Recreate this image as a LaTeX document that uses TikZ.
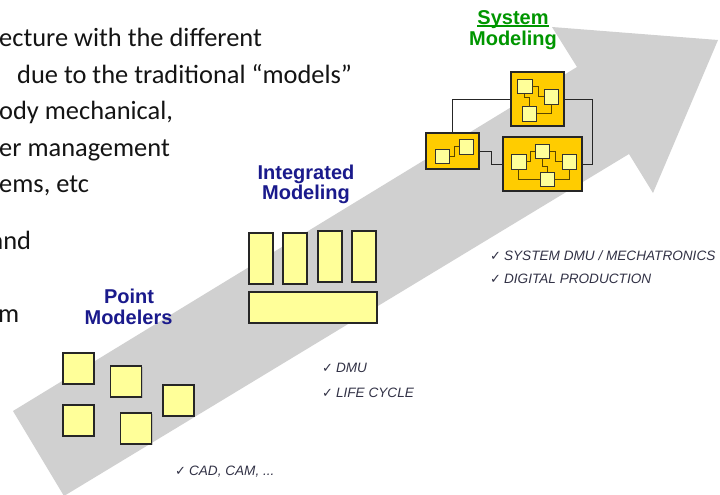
\documentclass[tikz,border=0pt]{standalone}
\usepackage{fontspec}
\setmainfont{Liberation Sans}
\newfontfamily\calfont{Carlito}
\newfontfamily\symfont{DejaVu Sans}
\usetikzlibrary{shadows}
\definecolor{arrowgray}{RGB}{208,208,208}
\definecolor{lightyel}{RGB}{255,255,153}
\definecolor{goldbox}{RGB}{255,204,0}
\definecolor{navylab}{RGB}{26,26,140}
\definecolor{greenlab}{RGB}{0,150,0}
\definecolor{checktxt}{RGB}{50,50,70}
\definecolor{innerline}{RGB}{90,70,0}
\newcommand\chkmark{{\symfont\fontsize{13}{14}\selectfont ✓}\hspace{3pt}}
\begin{document}
\begin{tikzpicture}[x=1pt,y=-1pt,
  ybox/.style={draw=black!85, fill=lightyel, line width=1.1pt, inner sep=0pt, outer sep=0pt,
    drop shadow={shadow xshift=1pt, shadow yshift=-1pt, opacity=.35}},
  gbox/.style={draw=black!85, fill=goldbox, line width=1.1pt, inner sep=0pt, outer sep=0pt,
    drop shadow={shadow xshift=1pt, shadow yshift=-1pt, opacity=.35}},
  sq/.style={draw=black!80, fill=lightyel, line width=0.8pt, inner sep=0pt, outer sep=0pt, minimum size=14.5pt},
  conn/.style={draw=black!85, line width=1pt},
  inconn/.style={draw=innerline, line width=0.9pt},
  blk/.style={font=\calfont\fontsize{26.4}{31}\selectfont, text=black!92, inner sep=0pt, anchor=base west},
  navy/.style={font=\bfseries\fontsize{20}{20}\selectfont, text=navylab, inner sep=0pt, anchor=base},
  grn/.style={font=\bfseries\fontsize{20}{20}\selectfont, text=greenlab, inner sep=0pt, anchor=base},
  chk/.style={font=\itshape\fontsize{13.6}{16}\selectfont, text=checktxt, inner sep=0pt, anchor=base west}
]
\useasboundingbox (0,0) rectangle (720,495);
\fill[white] (0,0) rectangle (720,495);
\begin{scope}
\clip (0,0) rectangle (720,495);

% big arrow
\fill[arrowgray] (13,411) -- (577,67) -- (552,27) -- (718,40) -- (653,193) -- (629,154) -- (64,496) -- cycle;

% left text fragments
\node[blk] (t1) at (-1,47) {ecture with the different};
\node[blk] (t2) at (17,83) {due to the traditional “models”};
\node[blk] (t3) at (-1,119) {ody mechanical,};
\node[blk] (t4) at (-1,156) {er management};
\node[blk] (t5) at (-1,192) {ems, etc};
\node[blk] (t6) at (-9.5,249) {and};
\node[blk] (t7) at (-2,322) {m};
\end{scope}

% labels
\node[navy] (pm1) at (129,303) {Point};
\node[navy] (pm2) at (128.5,324) {Modelers};
\node[navy] (im1) at (306,179) {Integrated};
\node[navy] (im2) at (306,199) {Modeling};
\node[grn] (sm1) at (513,25) {System};
\node[grn] (sm2) at (513,46) {Modeling};
\draw[greenlab, line width=1.4pt] ([yshift=-1.2pt]sm1.base west) -- ([yshift=-1.2pt]sm1.base east);

% point modelers
\node[ybox, minimum width=31pt, minimum height=31pt] (p1) at (78.5,368.5) {};
\node[ybox, minimum width=31pt, minimum height=31pt] (p2) at (126,381.5) {};
\node[ybox, minimum width=31pt, minimum height=31pt] (p3) at (178.5,400.5) {};
\node[ybox, minimum width=31pt, minimum height=31pt] (p4) at (78.5,420.5) {};
\node[ybox, minimum width=31pt, minimum height=31pt] (p5) at (136,428.5) {};

% integrated modeling
\node[ybox, minimum width=24pt, minimum height=51pt] (i1) at (261,258.5) {};
\node[ybox, minimum width=24pt, minimum height=51pt] (i2) at (295,258.5) {};
\node[ybox, minimum width=24pt, minimum height=51pt] (i3) at (330,256.5) {};
\node[ybox, minimum width=24pt, minimum height=51pt] (i4) at (364,256.5) {};
\node[ybox, minimum width=128pt, minimum height=31pt] (i5) at (313,307.5) {};

% system modeling
\node[gbox, minimum width=53pt, minimum height=54pt] (T) at (537.5,99) {};
\node[gbox, minimum width=53pt, minimum height=36pt] (L) at (452.5,151) {};
\node[gbox, minimum width=79pt, minimum height=54pt] (R) at (542.5,164) {};

\draw[conn] (L.north) |- (T.west);
\draw[conn] (T.east) -- ++(28,0) |- (R.east);
\draw[conn] (L.east) -- ++(12,0) |- (R.west);

% inner squares
\node[sq] (A) at (524.7,86.3) {};
\node[sq] (B) at (551.5,96.8) {};
\node[sq] (C) at (529.5,113.8) {};
\node[sq] (D) at (442.5,156.5) {};
\node[sq] (E) at (466.5,146.7) {};
\node[sq] (F) at (518.8,161.8) {};
\node[sq] (G) at (542.3,151.2) {};
\node[sq] (H) at (569.2,161.8) {};
\node[sq] (I) at (547.2,179.2) {};

\draw[inconn] (A.east) -- ++(6,0) |- (B.west);
\draw[inconn] (A.south) -- ++(0,4) -| (C.north);
\draw[inconn] (C.east) -| (B.south);
\draw[inconn] (D.east) -- ++(4.5,0) |- (E.west);
\draw[inconn] (F.east) -- ++(4,0) |- (G.west);
\draw[inconn] (G.east) -- ++(6,0) |- (H.west);
\draw[inconn] (G.south) -- ++(0,8) -| (I.north);
\draw[inconn] (F.south) |- (I.west);
\draw[inconn] (H.south) |- (I.east);

% check lists
\node[chk] (c1) at (490,260) {\chkmark SYSTEM DMU / MECHATRONICS};
\node[chk] (c2) at (490,283) {\chkmark DIGITAL PRODUCTION};
\node[chk] (c3) at (322,372) {\chkmark DMU};
\node[chk] (c4) at (322,397) {\chkmark LIFE CYCLE};
\node[chk] (c5) at (175,475) {\chkmark CAD, CAM, ...};
\end{tikzpicture}
\end{document}
